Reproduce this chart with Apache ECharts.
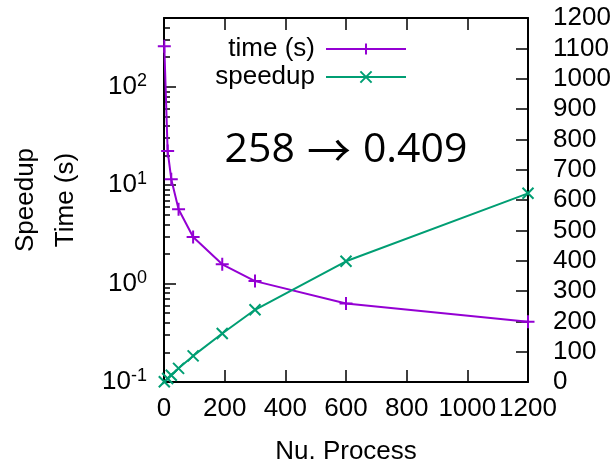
<!DOCTYPE html>
<html>
<head>
<meta charset="utf-8">
<script src="https://cdn.jsdelivr.net/npm/echarts@6/dist/echarts.min.js"></script>
<style>html,body{margin:0;padding:0;background:#fff}#c{width:615px;height:467px}</style>
</head>
<body>
<div id="c"></div>
<script>
const processes = [1, 12, 24, 48, 96, 192, 300, 600, 1200];
const timeSec = [258, 22.3, 11.5, 5.7, 2.97, 1.57, 1.06, 0.627, 0.409];
const speedup = [1, 11.6, 22.5, 45, 86, 160, 238, 398, 622];
const xTicks = [0, 200, 400, 600, 800, 1000, 1200];
const logMajor = [0.1, 1, 10, 100];
const logMinor = [0.2,0.3,0.4,0.5,0.6,0.7,0.8,0.9,2,3,4,5,6,7,8,9,20,30,40,50,60,70,80,90,200,300,400];

const FONT = 'Liberation Sans';
const PURPLE = '#9400d3';
const GREEN = '#009e73';
const plusPath = 'path://M0,50 L100,50 M50,0 L50,100';
const crossPath = 'path://M0,0 L100,100 M0,100 L100,0';

const chart = echarts.init(document.getElementById('c'), null, {renderer: 'canvas'});
const axisLine = {show: true, onZero: false, lineStyle: {color: '#000', width: 2}};
const plain = v => String(v);
chart.setOption({
  animation: false,
  backgroundColor: '#fff',
  grid: {left: 164, right: 87, top: 18, bottom: 85, containLabel: false, outerBoundsMode: 'none'},
  xAxis: [{
    type: 'value', min: 0, max: 1200, interval: 200, position: 'bottom',
    axisLine: axisLine,
    axisTick: {show: true, inside: true, length: 12, customValues: xTicks, lineStyle: {color: '#000', width: 1.5}},
    axisLabel: {customValues: xTicks, formatter: plain, fontFamily: FONT, fontSize: 26, color: '#000', margin: 14, hideOverlap: false, showMinLabel: true, showMaxLabel: true},
    splitLine: {show: false},
    name: 'Nu. Process', nameLocation: 'middle', nameGap: 57,
    nameTextStyle: {fontFamily: FONT, fontSize: 26, color: '#000'}
  }, {
    type: 'value', min: 0, max: 1200, interval: 200, position: 'top',
    axisLine: axisLine,
    axisTick: {show: true, inside: true, length: 12, lineStyle: {color: '#000', width: 1.5}},
    axisLabel: {show: false}, splitLine: {show: false}
  }],
  yAxis: [{
    type: 'log', logBase: 10, min: 0.1, max: 500, position: 'left',
    axisLine: axisLine,
    axisTick: {show: true, inside: true, length: 12, customValues: logMajor, lineStyle: {color: '#000', width: 1.5}},
    axisLabel: {
      customValues: logMajor, margin: 17, color: '#000',
      formatter: function (v) {
        const e = Math.round(Math.log10(v));
        return '{b|10}{s|' + e + '}';
      },
      rich: {
        b: {fontFamily: FONT, fontSize: 26, color: '#000'},
        s: {fontFamily: FONT, fontSize: 18, color: '#000', padding: [0, 0, 12, 0]}
      }
    },
    splitLine: {show: false}
  }, {
    type: 'value', min: 0, max: 1200, interval: 100, position: 'right',
    axisLine: axisLine,
    axisTick: {show: true, inside: true, length: 12, lineStyle: {color: '#000', width: 1.5}},
    axisLabel: {formatter: plain, fontFamily: FONT, fontSize: 26, color: '#000', margin: 25, showMinLabel: true, showMaxLabel: true},
    splitLine: {show: false}
  }, {
    type: 'log', logBase: 10, min: 0.1, max: 500, position: 'left', offset: 0,
    axisLine: {show: false},
    axisTick: {show: true, inside: true, length: 6, customValues: logMinor, lineStyle: {color: '#000', width: 1.5}},
    axisLabel: {show: false},
    splitLine: {show: false}
  }],
  legend: {
    orient: 'vertical', right: 203, top: 30, align: 'right',
    itemWidth: 80, itemHeight: 14, itemGap: 0,
    textStyle: {fontFamily: FONT, fontSize: 26, color: '#000', lineHeight: 28, padding: [0, 6, 0, 0]},
    data: ['time (s)', 'speedup']
  },
  series: [{
    name: 'time (s)', type: 'line', xAxisIndex: 0, yAxisIndex: 0,
    data: processes.map((p, i) => [p, timeSec[i]]),
    symbol: plusPath, symbolSize: 13, showAllSymbol: true, clip: false,
    lineStyle: {color: PURPLE, width: 2},
    itemStyle: {color: PURPLE, borderColor: PURPLE, borderWidth: 2}
  }, {
    name: 'speedup', type: 'line', xAxisIndex: 0, yAxisIndex: 1,
    data: processes.map((p, i) => [p, speedup[i]]),
    symbol: crossPath, symbolSize: 11, showAllSymbol: true, clip: false,
    lineStyle: {color: GREEN, width: 2},
    itemStyle: {color: GREEN, borderColor: GREEN, borderWidth: 2}
  }],
  graphic: [{
    type: 'text', x: 26, y: 200, rotation: Math.PI / 2,
    style: {text: 'Speedup', fontFamily: FONT, fontSize: 26, fill: '#000', align: 'center', verticalAlign: 'middle'}
  }, {
    type: 'text', x: 66, y: 200, rotation: Math.PI / 2,
    style: {text: 'Time (s)', fontFamily: FONT, fontSize: 26, fill: '#000', align: 'center', verticalAlign: 'middle'}
  }, {
    type: 'text', x: 346, y: 150,
    style: {
      text: '{t|258}{a|\u2192}{t|0.409}', align: 'center', verticalAlign: 'middle',
      rich: {
        t: {fontFamily: 'Open Sans', fontSize: 41, fill: '#000'},
        a: {fontFamily: 'Noto Sans CJK SC', fontSize: 44, fill: '#000', padding: [0, 12, 0, 12]}
      }
    }
  }]
});
</script>
</body>
</html>
